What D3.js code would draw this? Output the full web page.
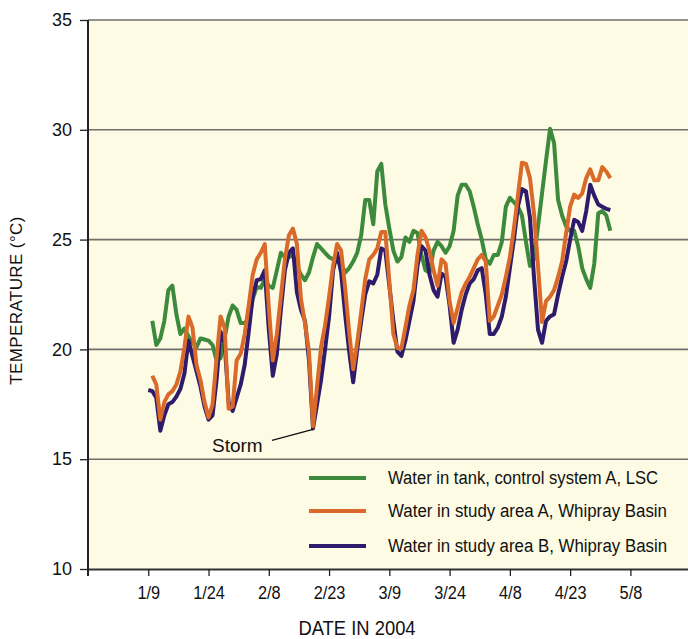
<!DOCTYPE html>
<html>
<head>
<meta charset="utf-8">
<script src="https://cdn.jsdelivr.net/npm/d3@7"></script>
<style>
    body { margin: 0; background: #fff; }
    svg { display: block; }
    .plain { font-family: "Liberation Sans", Arial, sans-serif; }
</style>
</head>
<body>
<div id="chart"></div>
<script>
// daily values, 2004-01-09 .. 2004-05-03 (null = no reading)
const FIRST_DAY = "2004-01-09";
const LAST_DAY = "2004-05-03";

const tickDates = ["2004-01-09", "2004-01-24", "2004-02-08", "2004-02-23", "2004-03-09",
    "2004-03-24", "2004-04-08", "2004-04-23", "2004-05-08"];
const yTicks = [10, 15, 20, 25, 30, 35];

const seriesNames = [
    "Water in tank, control system A, LSC",
    "Water in study area A, Whipray Basin",
    "Water in study area B, Whipray Basin"
];

const tankValues = [null,
    21.3, 20.2, 20.5, 21.3, 22.7, 22.9, 21.6, 20.7, 20.95, 20.6, 20.3, 20.1, 20.5, 20.45, 20.4, 20.2, 19.5, 19.6, 20.5, 21.5, 22.0, 21.8,
    21.2, 21.2, 21.4, 22.3, 22.85, 22.8, 23.2, 22.9, 22.8, 23.6, 24.4, 24.2, 24.2, 24.3, 23.8, 23.4, 23.15, 23.5, 24.2, 24.8, 24.6, 24.4, 24.2, 24.1, 24.0, 23.9, 23.5, 23.7, 24.0,
    24.4, 25.2, 26.8, 26.8, 25.7, 28.1, 28.45, 26.6, 25.5, 24.5, 24.0, 24.2, 25.1, 24.9, 25.4, 25.3, 24.3, 23.6, 23.5, 24.5, 24.9, 24.7, 24.4, 24.7, 25.4, 27.0, 27.5, 27.5, 27.2, 26.5, 25.7,
    25.0, 24.1, 23.9, 24.3, 24.3, 24.9, 26.5, 26.9, 26.7, 26.5, 26.1, 24.9, 23.8, 24.1, 25.6, 27.1, 28.6, 30.05, 29.4, 26.8, 26.1, 25.6, 25.4, 25.4, 24.7, 23.7, 23.2, 22.8, 23.9, 26.2,
    26.3, 26.1, 25.4];

const areaAValues = [null,
    18.8, 18.4, 16.8, 17.6, 17.95, 18.1, 18.4, 19.0, 20.1, 21.5, 21.0, 19.3, 18.6, 17.6, 16.9, 17.5, 19.6, 21.5, 21.0, 17.3, 17.4, 19.5,
    19.8, 20.7, 22.0, 23.4, 24.1, 24.4, 24.8, 21.9, 19.5, 20.7, 22.4, 24.1, 25.2, 25.5, 24.8, 22.3, 21.2, 19.9, 16.5, 18.3, 20.1, 21.1, 22.4, 23.8, 24.8, 24.5, 22.8, 20.8, 19.1,
    20.3, 21.7, 23.2, 24.1, 24.3, 24.6, 25.35, 25.35, 23.1, 20.7, 20.05, 20.05, 21.0, 22.0, 22.7, 24.3, 25.4, 25.1, 24.5, 23.6, 22.9, 24.1, 23.9, 22.2, 21.2, 21.9, 22.6, 23.0, 23.3, 23.7, 24.1,
    24.3, 24.0, 21.3, 21.5, 22.0, 22.5, 23.3, 24.2, 25.5, 27.0, 28.5, 28.45, 27.8, 26.2, 23.8, 21.25, 22.2, 22.4, 22.7, 23.3, 24.0, 25.3, 26.5, 27.05, 26.9, 27.1, 27.8, 28.2, 27.7, 27.7,
    28.3, 28.1, 27.8];

const areaBValues = [18.15,
    18.1, 17.8, 16.3, 17.0, 17.5, 17.6, 17.85, 18.2, 18.9, 20.4, 19.7, 19.0, 18.3, 17.4, 16.8, 17.0, 18.6, 20.8, 20.3, 17.6, 17.2, 17.8,
    18.4, 19.3, 20.8, 22.4, 23.15, 23.2, 23.6, 20.9, 18.8, 19.8, 21.8, 23.6, 24.4, 24.6, 22.6, 21.8, 21.3, 19.5, 16.4, 17.5, 18.6, 20.0, 21.5, 23.6, 24.4, 23.5, 21.6, 19.9, 18.5,
    20.0, 21.3, 22.5, 23.1, 23.0, 23.4, 24.6, 24.5, 22.9, 21.3, 19.9, 19.7, 20.4, 21.3, 22.2, 23.8, 24.7, 24.5, 23.4, 22.7, 22.4, 23.45, 23.3, 22.0, 20.3, 20.9, 21.8, 22.5, 23.0, 23.2, 23.6,
    23.7, 22.5, 20.7, 20.7, 21.0, 21.5, 22.4, 23.7, 25.0, 26.5, 27.3, 27.2, 26.0, 23.3, 20.9, 20.3, 21.3, 21.5, 21.6, 22.5, 23.3, 24.0, 25.0, 25.9, 25.8, 25.4, 26.3, 27.5, 27.0, 26.6,
    26.5, 26.4, 26.35];

const STORM_DATE = "2004-02-19";
const STORM_VALUE = 16.4;

const WIDTH = 688;
const HEIGHT = 639;
const PLOT_LEFT = 88;
const PLOT_RIGHT = 688;
const PLOT_TOP = 20;
const PLOT_BOTTOM = 569;

// the original uses a condensed face; squeeze Liberation Sans horizontally
const TICK_NARROW = 0.86;
const TITLE_NARROW = 0.92;

const COLORS = ["#3d8a3c", "#d96a2a", "#2e1b6c"];
const BACKGROUND = "#fdfbe3";

const parseDay = d3.timeParse("%Y-%m-%d");

const days = d3.timeDay.range(parseDay(FIRST_DAY), d3.timeDay.offset(parseDay(LAST_DAY), 1));

const svg = d3.select("#chart")
    .append("svg")
    .attr("width", WIDTH)
    .attr("height", HEIGHT);

// x scale: the plot spans from 12/25/2003 to about 5/22/2004
const xScale = d3.scaleTime()
    .domain([new Date(2003, 11, 25), new Date(2004, 4, 22, 8)])
    .range([PLOT_LEFT, PLOT_RIGHT]);

const yScale = d3.scaleLinear()
    .domain([10, 35])
    .range([PLOT_BOTTOM, PLOT_TOP]);

// plot background
svg.append("rect")
    .attr("x", PLOT_LEFT)
    .attr("y", PLOT_TOP)
    .attr("width", PLOT_RIGHT - PLOT_LEFT)
    .attr("height", PLOT_BOTTOM - PLOT_TOP)
    .attr("fill", BACKGROUND);

// horizontal grid lines
svg.append("g")
    .selectAll("line")
    .data(yTicks.filter(d => d > 10))
    .join("line")
    .attr("x1", PLOT_LEFT)
    .attr("x2", PLOT_RIGHT)
    .attr("y1", d => yScale(d))
    .attr("y2", d => yScale(d))
    .attr("stroke", "#6e6e6a")
    .attr("stroke-width", 1.6);

// X axis
const xAxis = svg.append("g")
    .attr("transform", `translate(0,${PLOT_BOTTOM})`)
    .call(d3.axisBottom(xScale)
        .tickValues(tickDates.map(parseDay))
        .tickSize(7)
        .tickSizeOuter(0)
        .tickPadding(10)
        .tickFormat(d3.timeFormat("%-m/%-d")));
xAxis.select(".domain").attr("stroke", "#333").attr("stroke-width", 2);
xAxis.selectAll(".tick line").attr("stroke", "#222").attr("stroke-width", 1.3);
xAxis.selectAll("text")
    .attr("class", "plain")
    .attr("transform", `scale(${TICK_NARROW},1)`)
    .style("font-size", "19px")
    .attr("fill", "#111");

// Y axis
const yAxis = svg.append("g")
    .attr("transform", `translate(${PLOT_LEFT},0)`)
    .call(d3.axisLeft(yScale)
        .tickValues(yTicks)
        .tickSize(8)
        .tickSizeOuter(0)
        .tickPadding(8));
yAxis.select(".domain").remove();
yAxis.selectAll(".tick line").attr("stroke", "#222").attr("stroke-width", 1.3);
yAxis.selectAll("text")
    .attr("class", "plain")
    .style("font-size", "18px")
    .attr("fill", "#111");
yAxis.append("line")
    .attr("x1", 0).attr("x2", 0)
    .attr("y1", PLOT_TOP)
    .attr("y2", PLOT_BOTTOM + 7)
    .attr("stroke", "#222")
    .attr("stroke-width", 2);

// axis titles
svg.append("text")
    .attr("class", "plain")
    .attr("transform", `translate(16,${(PLOT_TOP + PLOT_BOTTOM) / 2 + 6}) rotate(-90)`)
    .attr("text-anchor", "middle")
    .attr("dominant-baseline", "central")
    .style("font-size", "17px")
    .style("letter-spacing", "0.4px")
    .attr("fill", "#111")
    .text("TEMPERATURE (°C)");

svg.append("text")
    .attr("class", "plain")
    .attr("transform", `translate(357,635) scale(${TITLE_NARROW},1)`)
    .attr("text-anchor", "middle")
    .style("font-size", "20px")
    .attr("fill", "#111")
    .text("DATE IN 2004");

// series lines
const allValues = [tankValues, areaAValues, areaBValues];
const line = d3.line()
    .defined(d => d.value !== null)
    .x(d => xScale(d.date))
    .y(d => yScale(d.value));

const drawOrder = [0, 2, 1];
drawOrder.forEach(i => {
    const points = days.map((date, k) => ({date: date, value: allValues[i][k]}));
    svg.append("path")
        .datum(points)
        .attr("d", line)
        .attr("fill", "none")
        .attr("stroke", COLORS[i])
        .attr("stroke-width", 4)
        .attr("stroke-linejoin", "round");
});

// storm annotation
const stormX = xScale(parseDay(STORM_DATE));
const stormY = yScale(STORM_VALUE);
svg.append("line")
    .attr("x1", stormX - 41)
    .attr("y1", stormY + 12)
    .attr("x2", stormX)
    .attr("y2", stormY + 1)
    .attr("stroke", "#111")
    .attr("stroke-width", 1.3);
svg.append("text")
    .attr("class", "plain")
    .attr("x", stormX - 101)
    .attr("y", stormY + 24)
    .style("font-size", "19px")
    .attr("fill", "#111")
    .text("Storm");

// legend
const legend = svg.append("g")
    .attr("transform", "translate(309,478)");
const legendRows = [0, 33, 68];
const legendTextWidths = [270, 279, 279];
seriesNames.forEach((name, i) => {
    const row = legend.append("g").attr("transform", `translate(0,${legendRows[i]})`);
    row.append("line")
        .attr("x1", 0).attr("x2", 57)
        .attr("y1", 0).attr("y2", 0)
        .attr("stroke", COLORS[i])
        .attr("stroke-width", 4);
    row.append("text")
        .attr("class", "plain")
        .attr("x", 79)
        .attr("y", 0)
        .attr("dominant-baseline", "central")
        .attr("textLength", legendTextWidths[i])
        .attr("lengthAdjust", "spacingAndGlyphs")
        .style("font-size", "18px")
        .attr("fill", "#111")
        .text(name);
});
</script>
</body>
</html>
